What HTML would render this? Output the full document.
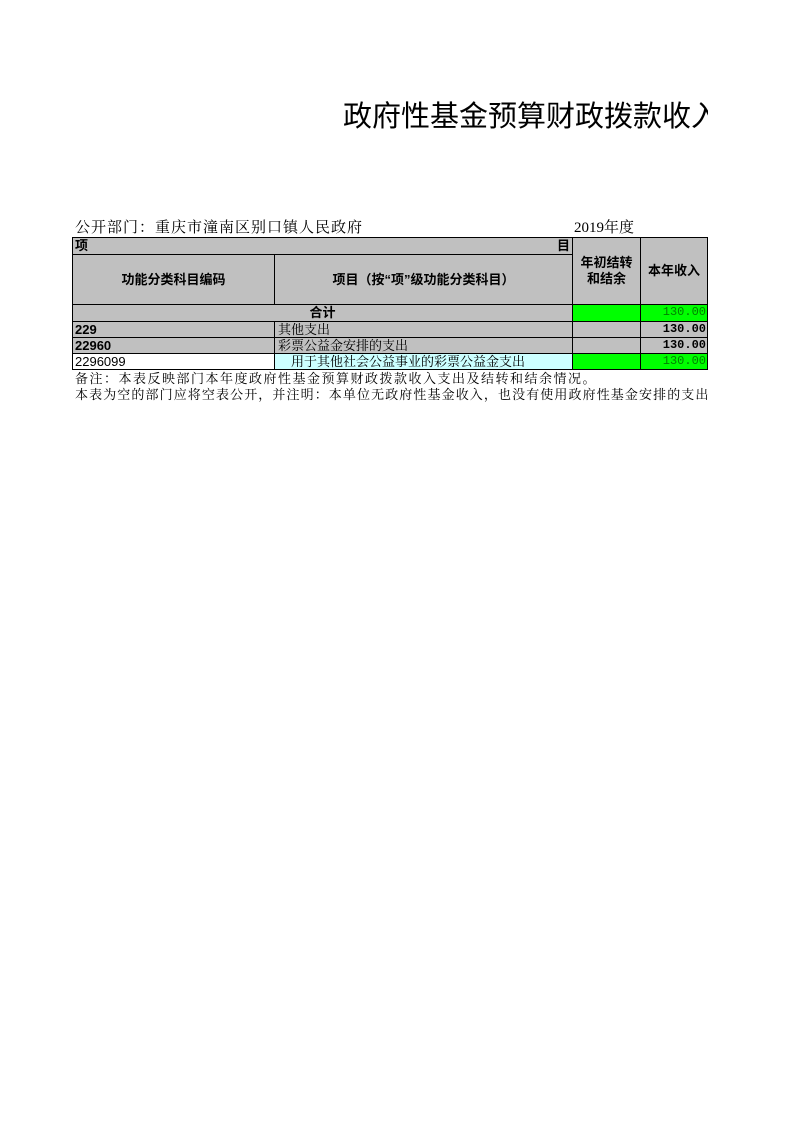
<!DOCTYPE html>
<html><head><meta charset="utf-8"><style>
body{margin:0;width:793px;height:1122px;background:#fff;position:relative;overflow:hidden;font-family:"Liberation Serif","Noto Serif CJK SC",serif;}
.a{position:absolute;white-space:nowrap;}
.c{position:absolute;box-sizing:border-box;border:1px solid #000;background:#c0c0c0;font-size:13px;line-height:15px;white-space:nowrap;overflow:hidden;}
.b{font-family:"Liberation Sans","Noto Sans CJK SC",sans-serif;font-weight:bold;}
.s{font-family:"Liberation Serif","Noto Serif CJK SC",serif;}
.g{background:#00ff00;}
.r{text-align:right;padding-right:1px;font-family:"Liberation Mono",monospace;font-size:12px;}
</style></head><body>
<div class="a" style="left:343px;top:100px;width:365px;overflow:hidden;font-family:'Liberation Sans','Noto Sans CJK SC',sans-serif;font-size:29px;line-height:34px;">政府性基金预算财政拨款收入支出表</div>
<div class="a" style="left:75px;top:220px;font-size:15px;line-height:17px;letter-spacing:1px;">公开部门：重庆市潼南区别口镇人民政府</div>
<div class="a" style="left:574px;top:220px;font-size:15px;line-height:17px;">2019年度</div>

<div class="c b" style="left:72px;top:237px;width:501px;height:18px;padding-left:2px;">项<span style="position:absolute;right:2px;">目</span></div>
<div class="c b" style="left:72px;top:254px;width:203px;height:51px;text-align:center;line-height:49px;">功能分类科目编码</div>
<div class="c b" style="left:274px;top:254px;width:299px;height:51px;text-align:center;line-height:49px;">项目（按“项”级功能分类科目）</div>
<div class="c b" style="left:572px;top:237px;width:69px;height:68px;text-align:center;padding-top:17px;line-height:16px;">年初结转<br>和结余</div>
<div class="c b" style="left:640px;top:237px;width:68px;height:68px;text-align:center;line-height:66px;">本年收入</div>

<div class="c b" style="left:72px;top:304px;width:501px;height:18px;text-align:center;">合计</div>
<div class="c g" style="left:572px;top:304px;width:69px;height:18px;"></div>
<div class="c g r" style="left:640px;top:304px;width:68px;height:18px;color:#008000;">130.00</div>

<div class="c b" style="left:72px;top:321px;width:203px;height:17px;padding-left:2px;">229</div>
<div class="c s" style="left:274px;top:321px;width:299px;height:17px;padding-left:3px;">其他支出</div>
<div class="c" style="left:572px;top:321px;width:69px;height:17px;"></div>
<div class="c r" style="left:640px;top:321px;width:68px;height:17px;font-weight:bold;">130.00</div>

<div class="c b" style="left:72px;top:337px;width:203px;height:17px;padding-left:2px;">22960</div>
<div class="c s" style="left:274px;top:337px;width:299px;height:17px;padding-left:3px;">彩票公益金安排的支出</div>
<div class="c" style="left:572px;top:337px;width:69px;height:17px;"></div>
<div class="c r" style="left:640px;top:337px;width:68px;height:17px;font-weight:bold;">130.00</div>

<div class="c" style="left:72px;top:353px;width:203px;height:17px;padding-left:2px;background:#fff;font-family:'Liberation Sans',sans-serif;">2296099</div>
<div class="c s" style="left:274px;top:353px;width:299px;height:17px;padding-left:16px;background:#ccffff;">用于其他社会公益事业的彩票公益金支出</div>
<div class="c g" style="left:572px;top:353px;width:69px;height:17px;"></div>
<div class="c g r" style="left:640px;top:353px;width:68px;height:17px;color:#008000;">130.00</div>

<div class="a" style="left:75px;top:371px;font-size:13px;line-height:15px;letter-spacing:1.5px;">备注：本表反映部门本年度政府性基金预算财政拨款收入支出及结转和结余情况。</div>
<div class="a" style="left:75px;top:387px;width:633px;overflow:hidden;font-size:13px;line-height:15px;letter-spacing:1.1px;">本表为空的部门应将空表公开，并注明：本单位无政府性基金收入，也没有使用政府性基金安排的支出，故本表无数据。</div>
</body></html>
